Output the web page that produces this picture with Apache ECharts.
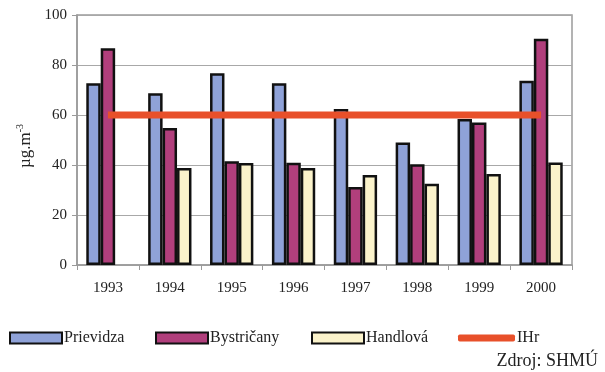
<!DOCTYPE html>
<html>
<head>
<meta charset="utf-8">
<script src="https://cdn.jsdelivr.net/npm/echarts@6/dist/echarts.min.js"></script>
<style>
  html, body { margin: 0; padding: 0; background: #fff; }
  #chart { width: 605px; height: 372px; }
</style>
</head>
<body>
<div id="chart"></div>
<script>
// Annual mean concentrations (µg.m-3) per station, 1993–2000
const years = ['1993', '1994', '1995', '1996', '1997', '1998', '1999', '2000'];
const prievidza = [72.7, 68.7, 76.7, 72.7, 62.4, 49, 58.4, 73.7];
const bystricany = [86.7, 54.8, 41.5, 40.9, 31.2, 40.3, 57, 90.5];
const handlova = [null, 38.8, 40.8, 38.8, 36, 32.5, 36.4, 41];
const limitIHr = [60, 60, 60, 60, 60, 60, 60, 60];
const yTicks = [0, 20, 40, 60, 80, 100];

const serif = 'Liberation Serif';
const textColor = '#222';
const barBorder = { borderColor: '#111', borderWidth: 2.5 };

const chart = echarts.init(document.getElementById('chart'));

// one legend block per entry so each sits at its own x position
function legendAt(left, name, extra) {
  return Object.assign({
    left: left,
    top: 330,
    padding: 0,
    data: [name],
    icon: 'rect',
    itemWidth: 52,
    itemHeight: 11,
    itemGap: 0,
    textStyle: { fontFamily: serif, fontSize: 16, color: textColor, padding: [0, 0, 0, -3] },
    selectedMode: false
  }, extra || {});
}

chart.setOption({
  animation: false,
  textStyle: { fontFamily: serif },
  grid: {
    left: 77, right: 33, top: 15, bottom: 107,
    show: true, borderColor: '#9a9a9a', borderWidth: 1.5
  },
  title: {
    text: 'Zdroj: SHMÚ',
    right: 7, bottom: 2,
    padding: 0,
    textStyle: { fontFamily: serif, fontSize: 18, fontWeight: 'normal', color: textColor }
  },
  legend: [
    legendAt(9, 'Prievidza'),
    legendAt(155, 'Bystričany'),
    legendAt(311, 'Handlová'),
    legendAt(458, 'IHr', {
      icon: 'roundRect',
      itemWidth: 57,
      itemHeight: 7
    })
  ],
  xAxis: {
    type: 'category',
    data: years,
    boundaryGap: true,
    axisLine: { lineStyle: { color: '#9a9a9a', width: 1.5 } },
    axisTick: { show: true, length: 5, lineStyle: { color: '#9a9a9a' } },
    axisLabel: { fontFamily: serif, fontSize: 15, color: textColor, margin: 16 }
  },
  yAxis: {
    type: 'value',
    min: yTicks[0],
    max: yTicks[yTicks.length - 1],
    interval: 20,
    name: '{m|µg.m}{s|-3}',
    nameLocation: 'middle',
    nameGap: 37,
    nameRotate: 90,
    nameTextStyle: {
      padding: [0, 12, 0, 0],
      rich: {
        m: { fontFamily: serif, fontSize: 17, color: textColor },
        s: { fontFamily: serif, fontSize: 10, color: textColor, verticalAlign: 'top', padding: [0, 0, 9, 0] }
      }
    },
    axisLine: { show: true, lineStyle: { color: '#9a9a9a', width: 1.5 } },
    axisTick: { show: true, length: 5, lineStyle: { color: '#9a9a9a' } },
    axisLabel: { fontFamily: serif, fontSize: 15, color: textColor, margin: 10 },
    splitLine: { lineStyle: { color: '#a8a8a8', width: 1.2 } }
  },
  series: [
    {
      name: 'Prievidza', type: 'bar', data: prievidza,
      barGap: '0%', barCategoryGap: '30%',
      itemStyle: Object.assign({ color: '#8fa2d8' }, barBorder)
    },
    {
      name: 'Bystričany', type: 'bar', data: bystricany,
      itemStyle: Object.assign({ color: '#b13f7c' }, barBorder)
    },
    {
      name: 'Handlová', type: 'bar', data: handlova,
      itemStyle: Object.assign({ color: '#fbf3cb' }, barBorder)
    },
    {
      name: 'IHr', type: 'line', data: limitIHr,
      symbol: 'none',
      z: 5,
      lineStyle: { color: '#e8502a', width: 7, cap: 'butt' },
      itemStyle: { color: '#e8502a' }
    }
  ]
});
</script>
</body>
</html>
